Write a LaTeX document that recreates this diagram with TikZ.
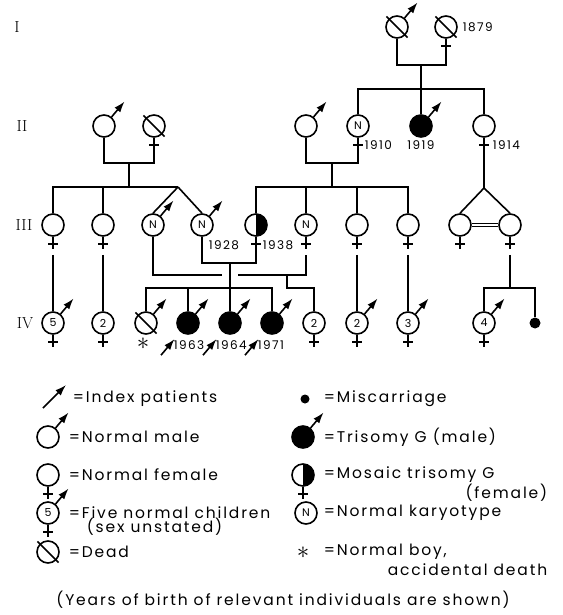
\documentclass[tikz,border=0pt]{standalone}
\usepackage{fontspec}
\usetikzlibrary{arrows.meta,positioning}
\newfontfamily\pedfont[LetterSpace=12]{Poppins}
\newcommand\legendfont{\pedfont\fontsize{15.5}{17}\selectfont}
\newcommand\yearfont{\pedfont\fontsize{12}{13}\selectfont}
\newcommand\cellfont{\pedfont\fontsize{11}{12}\selectfont}
\tikzset{
	symarrow/.style={-{Latex[length=11pt,width=7.5pt]}},
	ind/.style={circle, draw, minimum size=22pt, inner sep=0pt, font=\cellfont},
	sick/.style={ind, fill=black},
	mosaic/.style={ind, path picture={\fill (path picture bounding box.north) rectangle (path picture bounding box.south east);}},
	malesym/.style={append after command={(\tikzlastnode.50) edge[symarrow] ([shift={(50:32pt)}]\tikzlastnode.center)}},
	femsym/.style={append after command={(\tikzlastnode.south) edge ([yshift=-12pt]\tikzlastnode.south) ([shift={(-5pt,-7pt)}]\tikzlastnode.south) edge ([shift={(5pt,-7pt)}]\tikzlastnode.south)}},
	deadsym/.style={append after command={([shift={(135:15pt)}]\tikzlastnode.center) edge ([shift={(-45:15pt)}]\tikzlastnode.center)}},
	indexsym/.style={append after command={([shift={(-130:42pt)}]\tikzlastnode.center) edge[symarrow] ([shift={(-130:21pt)}]\tikzlastnode.center)}},
	year/.style={font=\yearfont, inner sep=0pt},
	gen/.style={font=\fontsize{16}{17}\selectfont, inner sep=0pt},
	legtext/.style={font=\legendfont, inner sep=0pt, anchor=west},
	starsym/.style={font=\fontsize{24}{24}\selectfont, inner sep=0pt},
}
\begin{document}
\begin{tikzpicture}[x=1pt, y=-1pt, line width=1.6pt]
			\useasboundingbox (0,0) rectangle (562,615);
			\node[gen] (gI) at (17,27) {I};
			\node[gen] (gII) at (22,126) {II};
			\node[gen] (gIII) at (24,225) {III};
			\node[gen] (gIV) at (25,323) {IV};
			\node[ind, deadsym, malesym] (IA) at (397,27) {};
			\node[ind, deadsym, femsym] (IB) at (446,27) {};
			\node[year, anchor=west] (yIB) at ([xshift=16pt]IB.center) {1879};
			\node[ind, malesym] (IIa) at (104,126) {};
			\node[ind, deadsym, femsym] (IIb) at (154,126) {};
			\node[ind, malesym] (IIc) at (306,126) {};
			\node[ind, femsym] (IId) at (358,126) {N};
			\node[sick, malesym] (IIe) at (421,126) {};
			\node[ind, femsym] (IIf) at (484,126) {};
			\node[year, anchor=west] (yIId) at ([shift={(6pt,-19pt)}]IId.center) {1910};
			\node[year] (yIIe) at ([yshift=-19pt]IIe.center) {1919};
			\node[year, anchor=west] (yIIf) at ([shift={(8pt,-19pt)}]IIf.center) {1914};
			\node[ind, femsym] (IIIa) at (53,225) {};
			\node[ind, femsym] (IIIb) at (103,225) {};
			\node[ind, malesym] (IIIc) at (153,225) {N};
			\node[ind, malesym] (IIId) at (202,225) {N};
			\node[mosaic, femsym] (IIIe) at (256,225) {};
			\node[ind, femsym] (IIIf) at (306,225) {N};
			\node[ind, femsym] (IIIg) at (357,225) {};
			\node[ind, femsym] (IIIh) at (408,225) {};
			\node[ind, femsym] (IIIi) at (460,225) {};
			\node[ind, femsym] (IIIj) at (510,225) {};
			\node[year, anchor=west] (yIIId) at ([shift={(6pt,-20pt)}]IIId.center) {1928};
			\node[year, anchor=west] (yIIIe) at ([shift={(6pt,-20pt)}]IIIe.center) {1938};
			\node[ind, malesym, femsym] (IVa) at (53,323) {5};
			\node[ind, femsym] (IVb) at (103,323) {2};
			\node[ind, deadsym, malesym] (IVc) at (146,323) {};
			\node[sick, malesym, indexsym] (IVd) at (188,323) {};
			\node[sick, malesym, indexsym] (IVe) at (230,323) {};
			\node[sick, malesym, indexsym] (IVf) at (272,323) {};
			\node[ind, femsym] (IVg) at (314,323) {2};
			\node[ind, malesym, femsym] (IVh) at (357,323) {2};
			\node[ind, malesym, femsym] (IVi) at (408,323) {3};
			\node[ind, malesym, femsym] (IVj) at (484,323) {4};
			\node[circle, fill, inner sep=0pt, minimum size=11pt] (IVk) at (535,323) {};
			\node[starsym] (IVstar) at (143,344) {$\ast$};
			\node[year, anchor=west] (yIVd) at ([shift={(-15pt,-22pt)}]IVd.center) {1963};
			\node[year, anchor=west] (yIVe) at ([shift={(-15pt,-22pt)}]IVe.center) {1964};
			\node[year, anchor=west] (yIVf) at ([shift={(-15pt,-22pt)}]IVf.center) {1971};
			\coordinate (cI) at (421,65);
			\coordinate (sI) at (421,89);
			\draw (IA) |- (cI) -| (IB);
			\draw (cI) -- (IIe);
			\draw (IId) |- (sI) -| (IIf);
			\coordinate (cIIa) at (129,163);
			\coordinate (tw1) at (178,187);
			\draw (IIa) |- (cIIa) -| (IIb);
			\draw (cIIa) -- (cIIa |- tw1);
			\draw (IIIa) |- (tw1);
			\draw (IIIb) -- (IIIb |- tw1);
			\draw (tw1) -- (IIIc.north);
			\draw (tw1) -- (IIId.north);
			\coordinate (cIIb) at (332,163);
			\coordinate (sIIb) at (332,187);
			\draw (IIc) |- (cIIb) -| (IId);
			\draw (cIIb) -- (sIIb);
			\draw (IIIe) |- (sIIb) -| (IIIh);
			\draw (IIIf) -- (IIIf |- sIIb);
			\draw (IIIg) -- (IIIg |- sIIb);
			\coordinate (tw2) at (484,188);
			\draw (IIf) -- (tw2);
			\draw (tw2) -- (IIIi.north);
			\draw (tw2) -- (IIIj.north);
			\draw[double, double distance=2.5pt, line width=0.9pt] (IIIi) -- (IIIj);
			\coordinate (gIIIa) at ([yshift=-18pt]IIIa.south);
			\coordinate (gIIIb) at ([yshift=-18pt]IIIb.south);
			\coordinate (gIIIf) at ([yshift=-18pt]IIIf.south);
			\coordinate (gIIIg) at ([yshift=-18pt]IIIg.south);
			\coordinate (gIIIh) at ([yshift=-18pt]IIIh.south);
			\coordinate (gIIIj) at ([yshift=-18pt]IIIj.south);
			\draw (gIIIa) -- (IVa);
			\draw (gIIIb) -- (IVb);
			\draw (gIIIg) -- (IVh);
			\draw (gIIIh) -- (IVi);
			\coordinate (m1) at (230,263);
			\coordinate (s1) at (230,288);
			\draw (IIId) |- (m1) -| (IIIe);
			\draw (m1) -- (IVe);
			\draw (IVc) |- (s1) -| (IVf);
			\draw (IVd) -- (IVd |- s1);
			\coordinate (gL) at (222,275);
			\coordinate (gR) at (238,275);
			\coordinate (m2) at (287,275);
			\coordinate (s2) at (287,288);
			\draw (IIIc) |- (gL);
			\draw (gR) -| (gIIIf);
			\draw (m2) -- (s2) -| (IVg);
			\coordinate (s3) at (510,288);
			\draw (gIIIj) -- (s3);
			\draw (IVj) |- (s3) -| (IVk);
			\draw[symarrow] (43,408) -- (66,385);
			\node[legtext] (tIndex) at (72,399) {=Index patients};
			\node[circle, fill, inner sep=0pt, minimum size=9pt] (Lmis) at (305,399) {};
			\node[legtext] (tMis) at (323,399) {=Miscarriage};
			\node[ind, malesym] (Lmale) at (48,437) {};
			\node[legtext] (tMale) at (68,437) {=Normal male};
			\node[sick, malesym] (Ltri) at (303,437) {};
			\node[legtext] (tTri) at (323,437) {=Trisomy G (male)};
			\node[ind, femsym] (Lfem) at (48,475) {};
			\node[legtext] (tFem) at (68,475) {=Normal female};
			\node[mosaic, femsym] (Lmos) at (303,475) {};
			\node[legtext] (tMos) at (323,475) {=Mosaic trisomy G};
			\node[legtext, anchor=east] (tMos2) at (548,493) {(female)};
			\node[ind, malesym, femsym] (Lfive) at (48,513) {5};
			\node[legtext] (tFive) at (68,513) {=Five normal children};
			\node[legtext] (tFive2) at (86,527) {(sex unstated)};
			\node[ind] (Lnk) at (306,513) {N};
			\node[legtext] (tNk) at (323,513) {=Normal karyotype};
			\node[ind, deadsym] (Ldead) at (48,552) {};
			\node[legtext] (tDead) at (68,552) {=Dead};
			\node[starsym] (Lstar) at (303,553) {$\ast$};
			\node[legtext] (tBoy) at (323,552) {=Normal boy,};
			\node[legtext, anchor=east] (tBoy2) at (548,570) {accidental death};
			\node[legtext, anchor=center] (tFoot) at (283,600) {(Years of birth of relevant individuals are shown)};
		\end{tikzpicture}
\end{document}
